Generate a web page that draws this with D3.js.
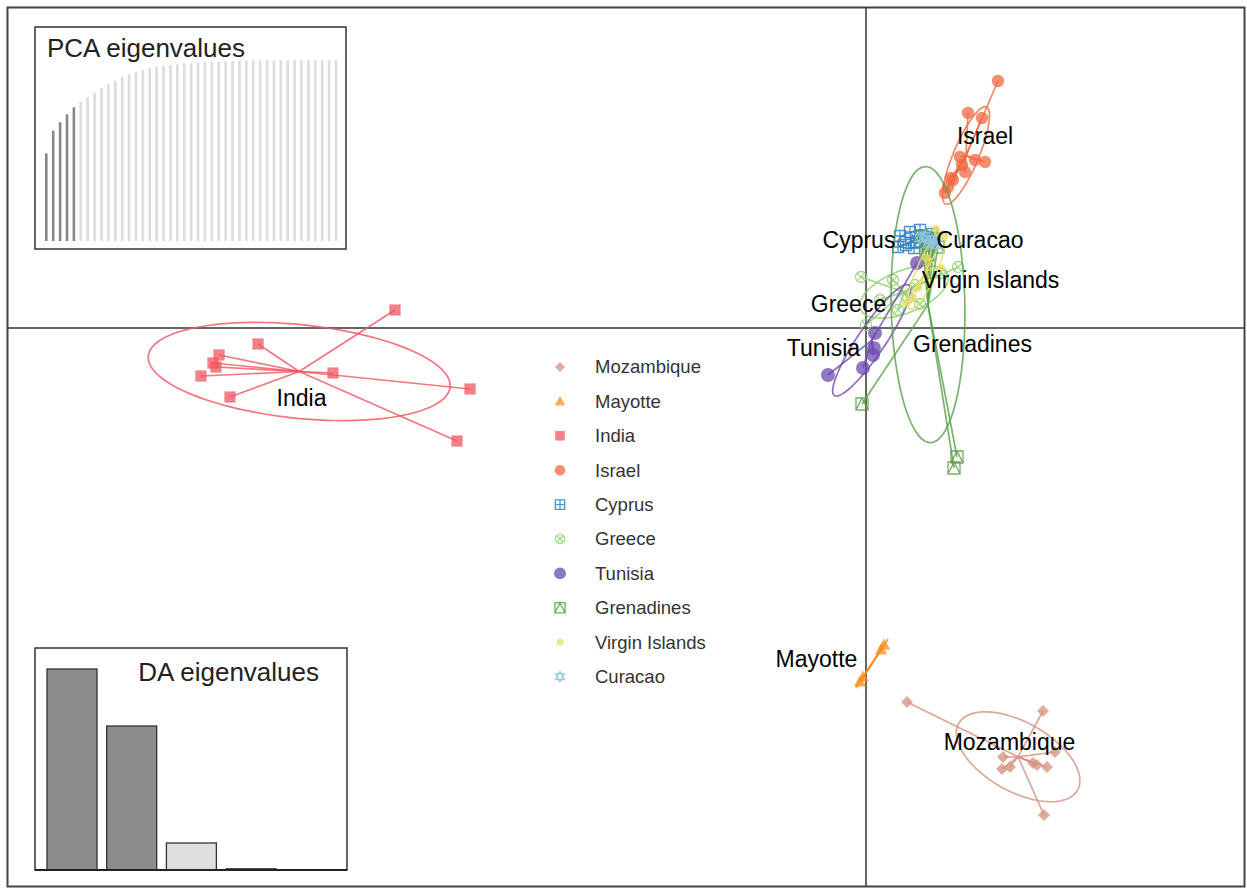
<!DOCTYPE html>
<meta charset="utf-8">
<script src="https://cdn.jsdelivr.net/npm/d3@7"></script>
<style>
body { margin: 0; background: #fff; }
text { font-family: "Liberation Sans", Arial, sans-serif; }
</style>
<body>
<script>

// groups, in legend order
var groups = ["Mozambique", "Mayotte", "India", "Israel", "Cyprus", "Greece",
              "Tunisia", "Grenadines", "Virgin Islands", "Curacao"];

// discriminant scores [LD1, LD2] of each individual
var mozambique = [[0.82,-7.48],[3.54,-7.66],[3.78,-8.48],[3.34,-8.70],[3.62,-8.78],
                  [2.74,-8.58],[2.72,-8.82],[2.88,-8.78],[3.42,-8.74],[3.56,-9.74]];
var mayotte = [[0.36,-6.34],[0.30,-6.44],[-0.06,-6.98],[-0.12,-7.08]];
var india = [[-9.42,0.36],[-12.16,-0.32],[-12.94,-0.54],[-13.06,-0.70],[-13.00,-0.78],
             [-13.30,-0.96],[-12.72,-1.38],[-10.66,-0.90],[-7.92,-1.22],[-8.18,-2.26]];
var israel = [[2.64,4.94],[2.04,4.30],[2.32,4.20],[1.88,3.42],[2.38,3.32],[1.98,3.12],
              [1.74,2.96],[1.58,2.70],[1.64,2.82],[1.92,3.26],[2.18,3.36],[1.70,3.00]];
var cyprus = [[0.68,1.84],[0.88,1.92],[1.08,1.96],[1.32,1.88],[0.80,1.66],
              [1.00,1.72],[1.20,1.76],[0.64,1.62],[0.96,1.60],[1.36,1.80]];
var greece = [[-0.10,1.02],[1.84,1.22],[0.54,0.96],[0.98,0.86],[1.08,0.48],
              [0.64,0.36],[0.84,0.60],[0.28,0.56],[0.00,0.06],[1.50,1.10]];
var tunisia = [[-0.76,-0.94],[-0.06,-0.80],[0.14,-0.54],[0.16,-0.40],[0.18,-0.10],[1.02,1.30]];
var grenadines = [[-0.08,-1.52],[1.82,-2.58],[1.76,-2.80],[1.12,1.82],[1.28,1.70],
                  [1.44,1.62],[1.20,1.54],[1.36,1.78],[1.24,1.46],[1.26,1.66]];
var virginIslands = [[1.40,1.98],[1.56,1.84],[1.20,1.40],[1.50,1.20],[0.94,0.60],
                     [0.80,0.50],[1.28,0.90],[1.04,0.80]];
var curacao = [[1.18,1.84],[1.32,1.76],[1.24,1.68],[1.08,1.80],[1.40,1.66]];

var scores = [mozambique, mayotte, india, israel, cyprus, greece,
              tunisia, grenadines, virginIslands, curacao];

// where the group labels sit (LD1, LD2)
var labelLD1 = [2.87, -0.99, -11.29, 2.38, -0.14, -0.35, -0.85, 2.13, 2.49, 2.28];
var labelLD2 = [-8.28, -6.62, -1.40, 3.84, 1.76, 0.48, -0.40, -0.32, 0.96, 1.76];

// cumulated PCA variance (%) and DA eigenvalues
var pcaCumVar = [48.5, 61.1, 65.7, 70.1, 74.0, 77.1, 79.5, 82.1, 84.5, 86.7,
                 88.7, 90.6, 92.3, 93.5, 94.6, 95.6, 96.3, 96.9, 97.4, 97.8,
                 98.2, 98.5, 98.7, 98.9, 99.1, 99.3, 99.4, 99.6, 99.7, 99.8,
                 99.85, 99.9, 99.93, 99.95, 99.97, 99.98, 99.99, 100, 100, 100,
                 100, 100, 100];
var daEig = [201, 144, 27, 1.2, 0.1];
var nPcaKept = 5, nDaKept = 2;

var colors = ["#D4917F", "#FF8C1A", "#EF5560", "#F26841", "#3381C2",
              "#8ED06E", "#6E4AAE", "#58A048", "#E8DD66", "#8DC4E2"];
var shapes = ["diamond", "triangle", "square", "circle", "sqplus",
              "circx", "bigcircle", "sqtri", "dot", "star"];

var width = 1247, height = 888;

var svg = d3.select("body").append("svg")
    .attr("width", width)
    .attr("height", height);

var x = d3.scaleLinear().domain([-17.2, 7.6]).range([6, 1246]);
var y = d3.scaleLinear().domain([-11.16, 6.42]).range([886, 7]);

// frame
svg.append("rect")
    .attr("x", x(-17.2) + 1.5).attr("y", y(6.42) + 0.5)
    .attr("width", x(7.6) - x(-17.2) - 3).attr("height", y(-11.16) - y(6.42))
    .attr("fill", "none").attr("stroke", "#444").attr("stroke-width", 2);

// axes through origin
svg.append("line")
    .attr("x1", x(0)).attr("x2", x(0)).attr("y1", y(6.42)).attr("y2", y(-11.16))
    .attr("stroke", "#333").attr("stroke-width", 1.5);
svg.append("line")
    .attr("x1", x(-17.2) + 2).attr("x2", x(7.6) - 2).attr("y1", y(0)).attr("y2", y(0))
    .attr("stroke", "#333").attr("stroke-width", 1.5);

// draw one point symbol
function symbol(g, type, col, s) {
  var op = 0.75;
  if (type == "diamond") {
    g.append("path").attr("d", "M0," + (-s) + "L" + s + ",0L0," + s + "L" + (-s) + ",0Z")
      .attr("fill", col).attr("fill-opacity", op);
  } else if (type == "triangle") {
    g.append("path").attr("d", "M0," + (-s) + "L" + (s * 0.95) + "," + (s * 0.7) + "L" + (-s * 0.95) + "," + (s * 0.7) + "Z")
      .attr("fill", col).attr("fill-opacity", op);
  } else if (type == "square") {
    g.append("rect").attr("x", -s).attr("y", -s).attr("width", 2 * s).attr("height", 2 * s)
      .attr("fill", col).attr("fill-opacity", op);
  } else if (type == "circle" || type == "bigcircle" || type == "dot") {
    g.append("circle").attr("r", s).attr("fill", col).attr("fill-opacity", op);
  } else if (type == "sqplus") {
    g.append("path").attr("d", "M" + (-s) + "," + (-s) + "h" + 2 * s + "v" + 2 * s + "h" + (-2 * s) + "Z"
        + "M0," + (-s) + "V" + s + "M" + (-s) + ",0H" + s)
      .attr("fill", "none").attr("stroke", col).attr("stroke-opacity", 0.85).attr("stroke-width", 1.3);
  } else if (type == "circx") {
    var d = s * 0.707;
    g.append("circle").attr("r", s).attr("fill", "none").attr("stroke", col).attr("stroke-width", 1.3).attr("stroke-opacity", 0.85);
    g.append("path").attr("d", "M" + (-d) + "," + (-d) + "L" + d + "," + d + "M" + (-d) + "," + d + "L" + d + "," + (-d))
      .attr("stroke", col).attr("stroke-width", 1.3).attr("stroke-opacity", 0.85);
  } else if (type == "sqtri") {
    g.append("path").attr("d", "M" + (-s) + "," + (-s) + "h" + 2 * s + "v" + 2 * s + "h" + (-2 * s) + "Z"
        + "M" + (-s) + "," + s + "L0," + (-s) + "L" + s + "," + s)
      .attr("fill", "none").attr("stroke", col).attr("stroke-opacity", 0.85).attr("stroke-width", 1.3);
  } else if (type == "star") {
    var h = s * 0.6;
    g.append("path").attr("d", "M0," + (-s) + "L" + (s * 0.87) + "," + h + "L" + (-s * 0.87) + "," + h + "Z"
        + "M0," + s + "L" + (s * 0.87) + "," + (-h) + "L" + (-s * 0.87) + "," + (-h) + "Z")
      .attr("fill", "none").attr("stroke", col).attr("stroke-width", 1.2).attr("stroke-opacity", 0.9);
  }
}

var sizes = {diamond: 6, triangle: 6.5, square: 5.6, circle: 6.2, sqplus: 5.5, circx: 5.5,
             bigcircle: 7, sqtri: 6, dot: 4, star: 6};

// group mean and 1.5 sd ellipse, like s.class
function stats(pts) {
  var n = pts.length;
  var mx = d3.mean(pts, function(p) { return p[0]; });
  var my = d3.mean(pts, function(p) { return p[1]; });
  var sxx = 0, syy = 0, sxy = 0;
  pts.forEach(function(p) {
    sxx += (p[0] - mx) * (p[0] - mx) / n;
    syy += (p[1] - my) * (p[1] - my) / n;
    sxy += (p[0] - mx) * (p[1] - my) / n;
  });
  var tr = sxx + syy, det = sxx * syy - sxy * sxy;
  var disc = Math.sqrt(Math.max(tr * tr / 4 - det, 0));
  var l1 = tr / 2 + disc, l2 = Math.max(tr / 2 - disc, 0);
  var th = 0.5 * Math.atan2(2 * sxy, sxx - syy);
  var a = 1.5 * Math.sqrt(l1), b = 1.5 * Math.sqrt(l2);
  var ell = d3.range(0, 120).map(function(i) {
    var t = i / 120 * 2 * Math.PI;
    return [mx + a * Math.cos(t) * Math.cos(th) - b * Math.sin(t) * Math.sin(th),
            my + a * Math.cos(t) * Math.sin(th) + b * Math.sin(t) * Math.cos(th)];
  });
  return {mx: mx, my: my, ell: ell};
}

var ellLine = d3.line()
    .x(function(d) { return x(d[0]); })
    .y(function(d) { return y(d[1]); })
    .curve(d3.curveLinearClosed);

var plot = svg.append("g");

groups.forEach(function(name, gi) {
  var pts = scores[gi];
  var st = stats(pts);
  var col = colors[gi];
  var g = plot.append("g").attr("class", "grp");

  g.append("path")
      .attr("d", ellLine(st.ell))
      .attr("fill", "none").attr("stroke", col)
      .attr("stroke-width", 1.7).attr("stroke-opacity", 0.8);

  g.selectAll("line.star")
      .data(pts).enter().append("line")
      .attr("x1", x(st.mx)).attr("y1", y(st.my))
      .attr("x2", function(d) { return x(d[0]); })
      .attr("y2", function(d) { return y(d[1]); })
      .attr("stroke", col).attr("stroke-width", 1.7).attr("stroke-opacity", 0.8);

  pts.forEach(function(p) {
    var s = g.append("g").attr("transform", "translate(" + x(p[0]) + "," + y(p[1]) + ")");
    symbol(s, shapes[gi], col, sizes[shapes[gi]]);
  });
});

// group labels
svg.append("g").selectAll("text")
    .data(groups).enter().append("text")
    .attr("x", function(d, i) { return x(labelLD1[i]); })
    .attr("y", function(d, i) { return y(labelLD2[i]); })
    .attr("dy", "0.35em")
    .attr("text-anchor", "middle")
    .style("font-size", "23px")
    .attr("fill", "#000")
    .text(function(d) { return d; });

// legend
var leg = svg.append("g").selectAll("g")
    .data(groups).enter().append("g")
    .attr("transform", function(d, i) { return "translate(560," + (367 + i * 34.4) + ")"; });
leg.each(function(d, i) {
  symbol(d3.select(this), shapes[i], colors[i], sizes[shapes[i]] * 0.85);
});
leg.append("text")
    .attr("x", 35).attr("dy", "0.35em")
    .style("font-size", "18.5px").attr("fill", "#333")
    .text(function(d) { return d; });

// PCA eigenvalues inset
var pca = svg.append("g");
pca.append("rect").attr("x", 35).attr("y", 27).attr("width", 311).attr("height", 222)
    .attr("fill", "#fff").attr("stroke", "#333").attr("stroke-width", 1.5);
var px = d3.scalePoint().domain(d3.range(pcaCumVar.length)).range([46.3, 336]);
var py = d3.scaleLinear().domain([0, 100]).range([241, 60.3]);
pca.selectAll("line.bar")
    .data(pcaCumVar).enter().append("line")
    .attr("x1", function(d, i) { return px(i); })
    .attr("x2", function(d, i) { return px(i); })
    .attr("y1", py(0))
    .attr("y2", function(d) { return py(d); })
    .attr("stroke", function(d, i) { return i < nPcaKept ? "#878787" : "#dcdcdc"; })
    .attr("stroke-width", 2.6);
pca.append("text").attr("x", 47).attr("y", 57)
    .style("font-size", "26px").attr("fill", "#222").text("PCA eigenvalues");

// DA eigenvalues inset
var da = svg.append("g");
da.append("rect").attr("x", 35).attr("y", 648).attr("width", 312).attr("height", 222)
    .attr("fill", "#fff").attr("stroke", "#333").attr("stroke-width", 1.5);
var dx = d3.scaleBand().domain(d3.range(daEig.length)).range([47, 335.8]).paddingInner(0.1625);
var dy = d3.scaleLinear().domain([0, d3.max(daEig)]).range([870, 669]);
da.selectAll("rect.bar")
    .data(daEig).enter().append("rect")
    .attr("x", function(d, i) { return dx(i); })
    .attr("width", dx.bandwidth())
    .attr("y", function(d) { return dy(d); })
    .attr("height", function(d) { return dy(0) - dy(d); })
    .attr("fill", function(d, i) { return i < nDaKept ? "#8c8c8c" : "#dedede"; })
    .attr("stroke", "#333").attr("stroke-width", 1.3);
da.append("line").attr("x1", 35).attr("x2", 347).attr("y1", 870).attr("y2", 870)
    .attr("stroke", "#222").attr("stroke-width", 2);
da.append("text").attr("x", 319).attr("y", 681).attr("text-anchor", "end")
    .style("font-size", "26px").attr("fill", "#222").text("DA eigenvalues");

</script>
</body>
